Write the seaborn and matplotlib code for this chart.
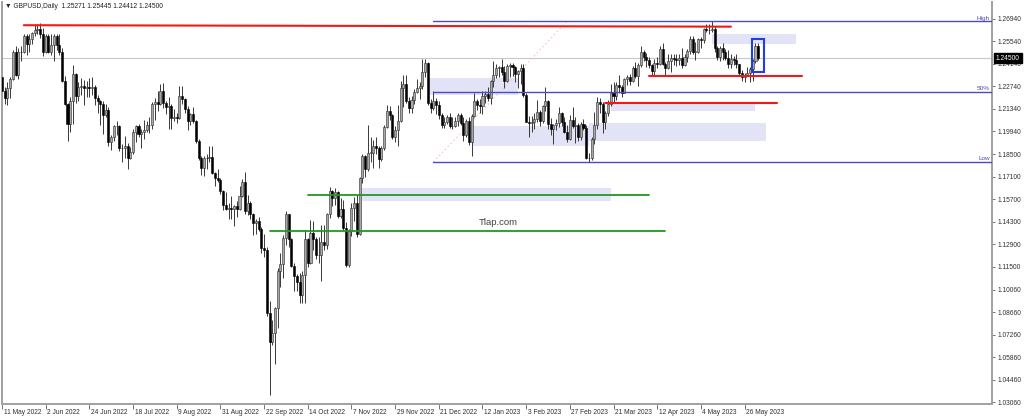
import numpy as np
import pandas as pd
import matplotlib
matplotlib.use("Agg")
import matplotlib.pyplot as plt
import matplotlib.transforms as mtransforms
from matplotlib.patches import Rectangle
import seaborn as sns

# ---------------- data ----------------
header_symbol = "GBPUSD,Daily"
header_ohlc = ["1.25271", "1.25445", "1.24412", "1.24500"]
first_date = "2022-05-11"
current_price = 1.24500

# daily OHLC in pips (price * 10000), one line per week
opens_pips = [
    12330, 12245, 12200,
    12265, 12320, 12490, 12345, 12490,
    12485, 12590, 12535, 12570, 12605,
    12625, 12630, 12600, 12490, 12590,
    12490, 12530, 12590, 12530, 12490,
    12310, 12165, 12040, 12180, 12350,
    12215, 12270, 12275, 12265, 12270,
    12265, 12270, 12200, 12180, 12165,
    12095, 12125, 11930, 11955, 12025,
    12025, 11890, 11890, 11905, 11830,
    11865, 11990, 12025, 11975, 11990,
    12000, 12030, 12035, 12165, 12175,
    12165, 12245, 12170, 12145, 12150,
    12075, 12080, 12075, 12215, 12195,
    12130, 12055, 12100, 12060, 11935,
    11830, 11765, 11830, 11825, 11835,
    11735, 11700, 11690, 11620, 11535,
    11510, 11515, 11510, 11530, 11510,
    11590, 11680, 11495, 11545, 11475,
    11420, 11435, 11385, 11265, 11255,
    10860, 10680, 10735, 10890, 11125,
    11165, 11330, 11475, 11320, 11155,
    11090, 11055, 10970, 11100, 11325,
    11175, 11360, 11320, 11220, 11220,
    11305, 11285, 11475, 11620, 11575,
    11615, 11465, 11510, 11390, 11160,
    11375, 11515, 11545, 11355, 11705,
    11840, 11760, 11860, 11860, 11905,
    11890, 11820, 11890, 12020, 12120,
    12095, 11960, 12000, 12055, 12265,
    12290, 12185, 12140, 12190, 12240,
    12265, 12275, 12365, 12420, 12170,
    12140, 12180, 12155, 12095, 12030,
    12050, 12085, 12025, 12025, 12060,
    12095, 12045, 11970, 12060, 11930,
    12090, 12180, 12155, 12150, 12215,
    12225, 12200, 12310, 12345, 12390,
    12395, 12365, 12310, 12400, 12405,
    12395, 12350, 12370, 12390, 12220,
    12050, 12045, 12050, 12070, 12115,
    12055, 12150, 12180, 12040, 12010,
    12030, 12045, 12110, 12050, 11990,
    11945, 12065, 12025, 12030, 11955,
    12040, 12015, 11825, 11830, 11945,
    12030, 12175, 12165, 12050, 12105,
    12165, 12235, 12215, 12280, 12270,
    12230, 12320, 12330, 12310, 12390,
    12340, 12410, 12490, 12455, 12440,
    12410, 12370, 12420, 12415, 12505,
    12415, 12390, 12435, 12450, 12445,
    12440, 12450, 12405, 12455, 12495,
    12570, 12490, 12490, 12570, 12565,
    12630, 12625, 12625, 12630, 12510,
    12455, 12510, 12490, 12450, 12415,
    12445, 12440, 12415, 12355, 12335,
    12345, 12355, 12380, 12435, 12527,
]
highs_pips = [
    12405, 12270, 12300,
    12330, 12500, 12525, 12510, 12525,
    12600, 12600, 12600, 12615, 12665,
    12665, 12666, 12640, 12600, 12600,
    12600, 12600, 12600, 12600, 12510,
    12340, 12170, 12205, 12405, 12360,
    12300, 12325, 12315, 12310, 12325,
    12330, 12285, 12220, 12190, 12185,
    12165, 12145, 11970, 12030, 12060,
    12030, 11915, 11965, 11920, 11895,
    12010, 12030, 12040, 12010, 12065,
    12055, 12085, 12175, 12200, 12245,
    12290, 12295, 12185, 12210, 12165,
    12135, 12110, 12275, 12275, 12200,
    12150, 12110, 12145, 12065, 11945,
    11840, 11840, 11855, 11900, 11900,
    11740, 11760, 11705, 11625, 11615,
    11545, 11590, 11535, 11560, 11650,
    11695, 11740, 11595, 11560, 11485,
    11450, 11460, 11400, 11355, 11275,
    10935, 10815, 10900, 11140, 11235,
    11345, 11495, 11480, 11330, 11175,
    11105, 11110, 11120, 11380, 11330,
    11440, 11435, 11335, 11335, 11410,
    11410, 11485, 11645, 11625, 11640,
    11620, 11575, 11565, 11430, 11385,
    11545, 11585, 11595, 11710, 11855,
    11845, 12030, 11955, 11940, 11955,
    11905, 11905, 12030, 12155, 12150,
    12100, 12025, 12155, 12310, 12345,
    12345, 12205, 12215, 12255, 12320,
    12300, 12445, 12445, 12425, 12195,
    12245, 12200, 12185, 12110, 12080,
    12095, 12105, 12080, 12085, 12110,
    12110, 12080, 12070, 12080, 12100,
    12230, 12195, 12195, 12245, 12245,
    12270, 12315, 12435, 12415, 12400,
    12445, 12400, 12415, 12420, 12420,
    12400, 12375, 12415, 12415, 12235,
    12090, 12090, 12105, 12190, 12125,
    12160, 12270, 12190, 12075, 12040,
    12070, 12145, 12115, 12080, 12030,
    12095, 12145, 12085, 12045, 12050,
    12070, 12035, 11860, 11955, 12115,
    12205, 12200, 12175, 12120, 12190,
    12290, 12300, 12300, 12345, 12285,
    12325, 12345, 12350, 12400, 12425,
    12420, 12525, 12500, 12480, 12455,
    12415, 12445, 12455, 12525, 12545,
    12425, 12475, 12475, 12475, 12475,
    12475, 12515, 12475, 12505, 12585,
    12585, 12550, 12575, 12580, 12635,
    12660, 12660, 12680, 12650, 12525,
    12525, 12545, 12505, 12500, 12475,
    12465, 12475, 12415, 12375, 12355,
    12395, 12395, 12445, 12545, 12545,
]
lows_pips = [
    12205, 12165, 12155,
    12200, 12315, 12340, 12320, 12430,
    12480, 12470, 12485, 12540, 12585,
    12600, 12575, 12460, 12480, 12480,
    12470, 12430, 12500, 12470, 12300,
    12160, 11935, 11990, 12040, 12170,
    12180, 12220, 12160, 12205, 12210,
    12220, 12160, 12110, 12030, 11975,
    12080, 11900, 11875, 11935, 11970,
    11870, 11805, 11830, 11760, 11820,
    11850, 11925, 11955, 11890, 11945,
    11990, 11985, 12010, 12065, 12120,
    12160, 12140, 12100, 12005, 12005,
    12060, 12045, 12070, 12165, 12105,
    12000, 12030, 12045, 11920, 11815,
    11720, 11715, 11760, 11800, 11725,
    11650, 11680, 11600, 11500, 11500,
    11445, 11445, 11405, 11460, 11500,
    11585, 11475, 11470, 11450, 11350,
    11355, 11370, 11235, 11210, 10840,
    10350, 10660, 10540, 10765, 11020,
    11080, 11285, 11275, 11145, 11000,
    10995, 10925, 10925, 10925, 11150,
    11165, 11255, 11200, 11175, 11060,
    11255, 11260, 11455, 11525, 11535,
    11455, 11455, 11380, 11150, 11145,
    11340, 11435, 11335, 11350, 11670,
    11710, 11745, 11800, 11765, 11850,
    11765, 11810, 11875, 12015, 12065,
    11945, 11930, 11905, 12050, 12145,
    12170, 12110, 12110, 12165, 12230,
    12195, 12255, 12335, 12155, 12110,
    12125, 12100, 12070, 12015, 12015,
    12040, 12015, 12005, 12020, 12025,
    12035, 11935, 11960, 11910, 11840,
    12085, 12125, 12105, 12100, 12170,
    12180, 12165, 12270, 12325, 12330,
    12345, 12265, 12300, 12335, 12340,
    12300, 12265, 12290, 12205, 12050,
    11960, 11990, 12010, 12050, 12025,
    12045, 12120, 12005, 11970, 11915,
    12000, 12020, 12025, 11985, 11925,
    11940, 12015, 11920, 11935, 11940,
    12000, 11820, 11800, 11815, 11915,
    12010, 12105, 11985, 12010, 12090,
    12150, 12175, 12190, 12235, 12205,
    12230, 12280, 12280, 12300, 12325,
    12275, 12395, 12430, 12395, 12390,
    12345, 12345, 12390, 12410, 12405,
    12345, 12380, 12365, 12405, 12400,
    12410, 12390, 12400, 12425, 12475,
    12475, 12440, 12480, 12510, 12545,
    12610, 12600, 12610, 12490, 12440,
    12430, 12440, 12440, 12390, 12390,
    12410, 12390, 12340, 12310, 12300,
    12340, 12300, 12305, 12420, 12441,
]
closes_pips = [
    12245, 12200, 12265,
    12320, 12490, 12345, 12490, 12485,
    12590, 12535, 12570, 12605, 12625,
    12630, 12600, 12490, 12590, 12490,
    12530, 12590, 12530, 12490, 12310,
    12165, 12040, 12180, 12350, 12215,
    12270, 12275, 12265, 12270, 12265,
    12270, 12200, 12180, 12165, 12095,
    12125, 11930, 11955, 12025, 12025,
    11890, 11890, 11905, 11830, 11865,
    11990, 12025, 11975, 11990, 12000,
    12030, 12035, 12165, 12175, 12165,
    12245, 12170, 12145, 12150, 12075,
    12080, 12075, 12215, 12195, 12130,
    12055, 12100, 12060, 11935, 11830,
    11765, 11830, 11825, 11835, 11735,
    11700, 11690, 11620, 11535, 11510,
    11515, 11510, 11530, 11510, 11590,
    11680, 11495, 11545, 11475, 11420,
    11435, 11385, 11265, 11255, 10860,
    10680, 10735, 10890, 11125, 11165,
    11330, 11475, 11320, 11155, 11090,
    11055, 10970, 11100, 11325, 11175,
    11360, 11320, 11220, 11220, 11305,
    11285, 11475, 11620, 11575, 11615,
    11465, 11510, 11390, 11160, 11375,
    11515, 11545, 11355, 11705, 11840,
    11760, 11860, 11860, 11905, 11890,
    11820, 11890, 12020, 12120, 12095,
    11960, 12000, 12055, 12265, 12290,
    12185, 12140, 12190, 12240, 12265,
    12275, 12365, 12420, 12170, 12140,
    12180, 12155, 12095, 12030, 12050,
    12085, 12025, 12025, 12060, 12095,
    12045, 11970, 12060, 11930, 12090,
    12180, 12155, 12150, 12215, 12225,
    12200, 12310, 12345, 12390, 12395,
    12365, 12310, 12400, 12405, 12395,
    12350, 12370, 12390, 12220, 12050,
    12045, 12050, 12070, 12115, 12055,
    12150, 12180, 12040, 12010, 12030,
    12045, 12110, 12050, 11990, 11945,
    12065, 12025, 12030, 11955, 12040,
    12015, 11825, 11830, 11945, 12030,
    12175, 12165, 12050, 12105, 12165,
    12235, 12215, 12280, 12270, 12230,
    12320, 12330, 12310, 12390, 12340,
    12410, 12490, 12455, 12440, 12410,
    12370, 12420, 12415, 12505, 12415,
    12390, 12435, 12450, 12445, 12440,
    12450, 12405, 12455, 12495, 12570,
    12490, 12490, 12570, 12565, 12630,
    12625, 12625, 12630, 12510, 12455,
    12510, 12490, 12450, 12415, 12445,
    12440, 12415, 12355, 12335, 12345,
    12355, 12380, 12435, 12525, 12450,
]

x_tick_labels = ["11 May 2022", "2 Jun 2022", "24 Jun 2022", "18 Jul 2022", "9 Aug 2022",
                 "31 Aug 2022", "22 Sep 2022", "14 Oct 2022", "7 Nov 2022", "29 Nov 2022",
                 "21 Dec 2022", "12 Jan 2023", "3 Feb 2023", "27 Feb 2023", "21 Mar 2023",
                 "12 Apr 2023", "4 May 2023", "26 May 2023"]
y_tick_values = [1.26940, 1.25540, 1.24140, 1.22740, 1.21340, 1.19940, 1.18500, 1.17100,
                 1.15700, 1.14300, 1.12900, 1.11500, 1.10060, 1.08660, 1.07260, 1.05860,
                 1.04460, 1.03060]
y_tick_labels = [f"{v:.5f}" for v in y_tick_values]

# Fibonacci tool
fib_start = "2022-12-19"
fib_anchor_end = "2023-02-24"
fib_levels = [1.2680, 1.2241, 1.1802]
fib_names = ["High", "50%", "Low"]

# shaded zones
zone_starts = ["2022-12-15", "2023-01-06", "2023-03-08", "2023-03-20", "2023-05-10", "2022-11-11"]
zone_ends = ["2023-01-31", "2023-03-08", "2023-06-07", "2023-06-01", "2023-06-22", "2023-03-20"]
zone_lows = [1.2221, 1.1904, 1.1935, 1.2122, 1.2539, 1.1558]
zone_highs = [1.2327, 1.2028, 1.2047, 1.2165, 1.2601, 1.1641]

# red levels
red_starts = ["2022-05-23", "2023-04-07", "2023-03-16"]
red_ends = ["2023-05-19", "2023-06-26", "2023-06-13"]
red_start_prices = [1.2655, 1.2339, 1.2172]
red_end_prices = [1.2646, 1.2339, 1.2172]

# green levels
green_starts = ["2022-10-14", "2022-09-26"]
green_ends = ["2023-04-07", "2023-04-17"]
green_prices = [1.1597, 1.1371]

# blue highlight box
box_start, box_end = "2023-05-31", "2023-06-06"
box_low, box_high = 1.2364, 1.2570

watermark = "Tlap.com"

# ---------------- setup ----------------
sns.set_theme(style="white")
plt.rcParams["font.family"] = ["Liberation Sans", "DejaVu Sans"]

n = min(len(opens_pips), len(highs_pips), len(lows_pips), len(closes_pips))
o = np.array(opens_pips[:n]) / 10000.0
h = np.array(highs_pips[:n]) / 10000.0
l = np.array(lows_pips[:n]) / 10000.0
c = np.array(closes_pips[:n]) / 10000.0

all_dates = pd.bdate_range(first_date, periods=400)
pos = {d: i for i, d in enumerate(all_dates)}
def xpos(s):
    return pos[pd.Timestamp(s)]

x = np.arange(n)
W, H = 1024, 418
fig = plt.figure(figsize=(W / 100, H / 100), dpi=100)
ax = fig.add_axes([2 / W, (H - 404) / H, 990 / W, 402 / H])
px_per_bar = 2.73
x_right = 990 / px_per_bar
ax.set_xlim(0, x_right)
y_per_px = (1.2694 - 1.0306) / 384.0
ax.set_ylim(1.0306 - 2 * y_per_px, 1.2694 + 17 * y_per_px)
ax.set_facecolor("white")

# zones
zone_color = "#e3e3f7"
for s, e, lo, hi in zip(zone_starts, zone_ends, zone_lows, zone_highs):
    ax.add_patch(Rectangle((xpos(s), lo), xpos(e) - xpos(s), hi - lo,
                           facecolor=zone_color, edgecolor="none", zorder=1))

# current price line
ax.axhline(current_price, color="#c8c8c8", lw=0.8, zorder=1.5)

# candles
bull = c >= o
body_lo = np.minimum(o, c)
body_h = np.maximum(np.abs(c - o), 0.00025)
ax.vlines(x, l, h, color="#383838", lw=0.7, zorder=2)
ax.bar(x[bull], body_h[bull], bottom=body_lo[bull], width=0.75,
       color="#a8a8a8", edgecolor="#2a2a2a", linewidth=0.4, zorder=3)
ax.bar(x[~bull], body_h[~bull], bottom=body_lo[~bull], width=0.75,
       color="#000000", edgecolor="#000000", linewidth=0.4, zorder=3)

# fib levels (seaborn lines)
fib_rows = []
for k, (lvl, nm) in enumerate(zip(fib_levels, fib_names)):
    fib_rows.append({"x": xpos(fib_start), "price": lvl, "seg": k})
    fib_rows.append({"x": x_right, "price": lvl, "seg": k})
fib_df = pd.DataFrame(fib_rows)
sns.lineplot(data=fib_df, x="x", y="price", units="seg", estimator=None, sort=False,
             color="#4b4bbf", lw=1.0, ax=ax, zorder=4, legend=False)
ax.plot([xpos(fib_start), xpos(fib_anchor_end)], [fib_levels[2], fib_levels[0]],
        color="#f4b4b4", lw=0.6, ls=(0, (2, 3)), zorder=1.6)
for lvl, nm in zip(fib_levels, fib_names):
    ax.text(x_right - 0.8, lvl + 0.0004, nm, ha="right", va="bottom", fontsize=4.6,
            color="#4a4ab0", zorder=6)

# red levels
red_rows = []
for k, (s, e, ps, pe) in enumerate(zip(red_starts, red_ends, red_start_prices, red_end_prices)):
    red_rows.append({"x": xpos(s), "price": ps, "seg": k})
    red_rows.append({"x": xpos(e), "price": pe, "seg": k})
sns.lineplot(data=pd.DataFrame(red_rows), x="x", y="price", units="seg", estimator=None,
             sort=False, color="#f21818", lw=1.5, ax=ax, zorder=5, legend=False)

# green levels
green_rows = []
for k, (s, e, p) in enumerate(zip(green_starts, green_ends, green_prices)):
    green_rows.append({"x": xpos(s), "price": p, "seg": k})
    green_rows.append({"x": xpos(e), "price": p, "seg": k})
sns.lineplot(data=pd.DataFrame(green_rows), x="x", y="price", units="seg", estimator=None,
             sort=False, color="#1f9a1f", lw=1.3, ax=ax, zorder=5, legend=False)

# blue box
ax.add_patch(Rectangle((xpos(box_start) - 0.4, box_low), xpos(box_end) - xpos(box_start) + 0.4,
                       box_high - box_low, facecolor="none", edgecolor="#1f3fe0",
                       lw=1.5, zorder=6))

ax.set_xlabel("")
ax.set_ylabel("")

# axes styling
for side in ["left", "bottom", "right"]:
    ax.spines[side].set_visible(True)
    ax.spines[side].set_color("#a0a0a0")
    ax.spines[side].set_linewidth(1.4)
ax.spines["top"].set_visible(False)

ax.yaxis.tick_right()
ax.set_yticks(y_tick_values)
ax.set_yticklabels(y_tick_labels)
ax.tick_params(axis="y", which="both", right=True, left=False, length=2.5, width=0.6,
               color="#606060", labelsize=4.8, labelcolor="#303030", pad=1.5)

label_dates = [pd.Timestamp(pd.to_datetime(s, format="%d %b %Y")) for s in x_tick_labels]
ax.set_xticks([pos[d] for d in label_dates])
ax.set_xticklabels(x_tick_labels)
ax.tick_params(axis="x", which="both", bottom=True, length=3.5, width=0.6,
               color="#606060", labelsize=4.8, labelcolor="#303030", pad=0.3)
for lab in ax.get_xticklabels():
    lab.set_horizontalalignment("left")
offset = mtransforms.ScaledTranslation(1.5 / 100, 0, fig.dpi_scale_trans)
for lab in ax.get_xticklabels():
    lab.set_transform(lab.get_transform() + offset)
ax.grid(False)

# current price label
trans = mtransforms.blended_transform_factory(ax.transAxes, ax.transData)
ax.text(1.004, current_price, f"{current_price:.5f}", transform=trans, ha="left", va="center",
        fontsize=4.8, color="white", zorder=10, clip_on=False,
        bbox=dict(boxstyle="square,pad=0.25", facecolor="black", edgecolor="black"))

# header
fig.text(5 / W, 1 - 6.5 / H, "\u25bc " + header_symbol + "  " + " ".join(header_ohlc),
         fontsize=4.8, color="#202020", va="center", ha="left",
         family=["Liberation Sans", "DejaVu Sans"])

# watermark
fig.text(498 / W, 1 - 223 / H, watermark, fontsize=6.8, color="#404040",
         ha="center", va="center")

fig.savefig("out.png", dpi=100)
